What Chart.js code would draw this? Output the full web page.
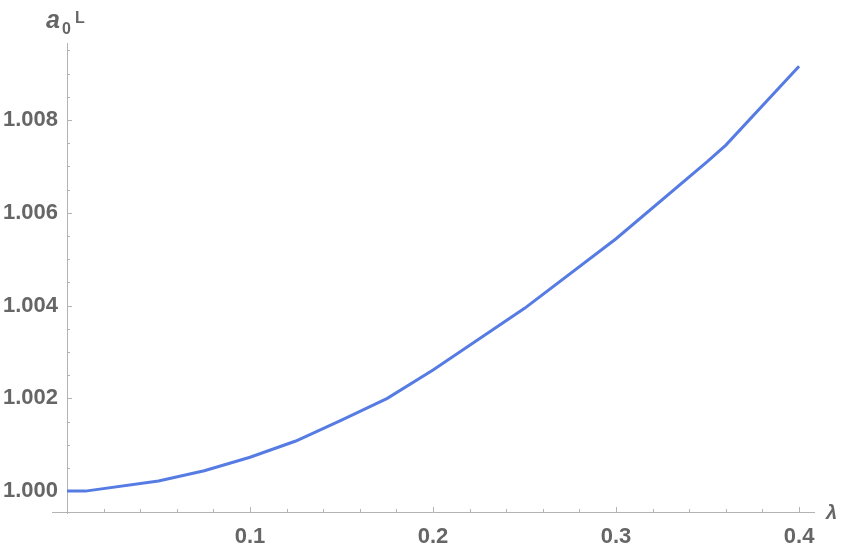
<!DOCTYPE html>
<html><head><meta charset="utf-8">
<script src="https://cdn.jsdelivr.net/npm/chart.js@4/dist/chart.umd.min.js"></script>
<style>html,body{margin:0;padding:0;background:#fff}#wrap{width:843px;height:551px;position:relative}</style>
</head><body><div id="wrap"><canvas id="c" width="843" height="551"></canvas></div>
<script>
const lambdaValues = [0, 0.01, 0.05, 0.075, 0.1, 0.125, 0.15, 0.175, 0.2, 0.25, 0.3, 0.35, 0.36, 0.4];
const a0LValues = [1.00000, 1.00000, 1.00022, 1.00044, 1.00073, 1.00108, 1.00153, 1.00200, 1.00261, 1.00394, 1.00544, 1.00711, 1.00746, 1.00916];
const xMajorTicks = [0.1, 0.2, 0.3, 0.4];
const xMinorTicks = [0.02, 0.04, 0.06, 0.08, 0.12, 0.14, 0.16, 0.18, 0.22, 0.24, 0.26, 0.28, 0.32, 0.34, 0.36, 0.38];
const yMajorTicks = [1.000, 1.002, 1.004, 1.006, 1.008];
const yMinorTicks = [1.0005, 1.001, 1.0015, 1.0025, 1.003, 1.0035, 1.0045, 1.005, 1.0055, 1.0065, 1.007, 1.0075, 1.0085, 1.009, 1.0095];
const xTitle = 'λ';
const yTitle = ['a', '0', 'L'];

const AXIS = '#b3b3b3';
const LABEL = '#666666';
const FONT = "'Liberation Sans', Arial, sans-serif";

const axesPlugin = {
  id: 'mmaAxes',
  beforeDatasetsDraw(chart) {
    const {ctx, chartArea, scales} = chart;
    const xs = scales.x, ys = scales.y;
    const x0 = xs.getPixelForValue(0);
    const yb = chartArea.bottom;
    ctx.save();
    ctx.strokeStyle = AXIS;
    ctx.lineWidth = 1;
    ctx.beginPath();
    ctx.moveTo(chartArea.left - 15, yb + 0.5);
    ctx.lineTo(chartArea.right, yb + 0.5);
    ctx.moveTo(Math.round(x0) + 0.5, chartArea.top);
    ctx.lineTo(Math.round(x0) + 0.5, yb + 2);
    ctx.stroke();
    ctx.beginPath();
    xMajorTicks.forEach(v => { const p = Math.round(xs.getPixelForValue(v)) + 0.5; ctx.moveTo(p, yb); ctx.lineTo(p, yb - 5); });
    xMinorTicks.forEach(v => { const p = Math.round(xs.getPixelForValue(v)) + 0.5; ctx.moveTo(p, yb); ctx.lineTo(p, yb - 3); });
    yMajorTicks.forEach(v => { const p = Math.round(ys.getPixelForValue(v)) + 0.5; ctx.moveTo(x0, p); ctx.lineTo(x0 + 5, p); });
    yMinorTicks.forEach(v => { const p = Math.round(ys.getPixelForValue(v)) + 0.5; ctx.moveTo(x0, p); ctx.lineTo(x0 + 3, p); });
    ctx.stroke();
    ctx.restore();
  },
  afterDraw(chart) {
    const {ctx} = chart;
    ctx.save();
    ctx.fillStyle = LABEL;
    ctx.textBaseline = 'alphabetic';
    ctx.textAlign = 'left';
    ctx.font = "italic bold 25px " + FONT;
    ctx.fillText(yTitle[0], 46, 28);
    ctx.font = "bold 16px " + FONT;
    ctx.fillText(yTitle[1], 62, 34);
    ctx.fillText(yTitle[2], 75, 23);
    ctx.font = "italic bold 20px " + FONT;
    ctx.fillText(xTitle, 826, 519);
    ctx.restore();
  }
};

new Chart(document.getElementById('c'), {
  type: 'line',
  data: {
    datasets: [{
      data: lambdaValues.map((x, i) => ({x: x, y: a0LValues[i]})),
      borderColor: 'rgb(86,124,228)',
      borderWidth: 3,
      pointRadius: 0,
      tension: 0,
      fill: false,
      clip: false
    }]
  },
  options: {
    responsive: false,
    animation: false,
    devicePixelRatio: 1,
    layout: {padding: {top: 43, right: 28, left: 0, bottom: 0}},
    plugins: {legend: {display: false}, tooltip: {enabled: false}},
    scales: {
      x: {
        type: 'linear', min: 0, max: 0.4087,
        grid: {display: false, drawTicks: false},
        border: {display: false},
        afterBuildTicks: s => { s.ticks = xMajorTicks.map(v => ({value: v})); },
        afterFit: s => { s.height = 39; },
        ticks: {
          padding: 12, autoSkip: false, maxRotation: 0, color: LABEL,
          font: {family: FONT, size: 22, weight: 'bold'},
          callback: v => Number(v).toFixed(1)
        }
      },
      y: {
        type: 'linear', min: 0.99955, max: 1.00966,
        grid: {display: false, drawTicks: false},
        border: {display: false},
        afterBuildTicks: s => { s.ticks = yMajorTicks.map(v => ({value: v})); },
        afterFit: s => { s.width = 67; },
        ticks: {
          padding: 9, autoSkip: false, color: LABEL,
          font: {family: FONT, size: 22, weight: 'bold'},
          callback: v => Number(v).toFixed(3)
        }
      }
    }
  },
  plugins: [axesPlugin]
});
</script></body></html>
